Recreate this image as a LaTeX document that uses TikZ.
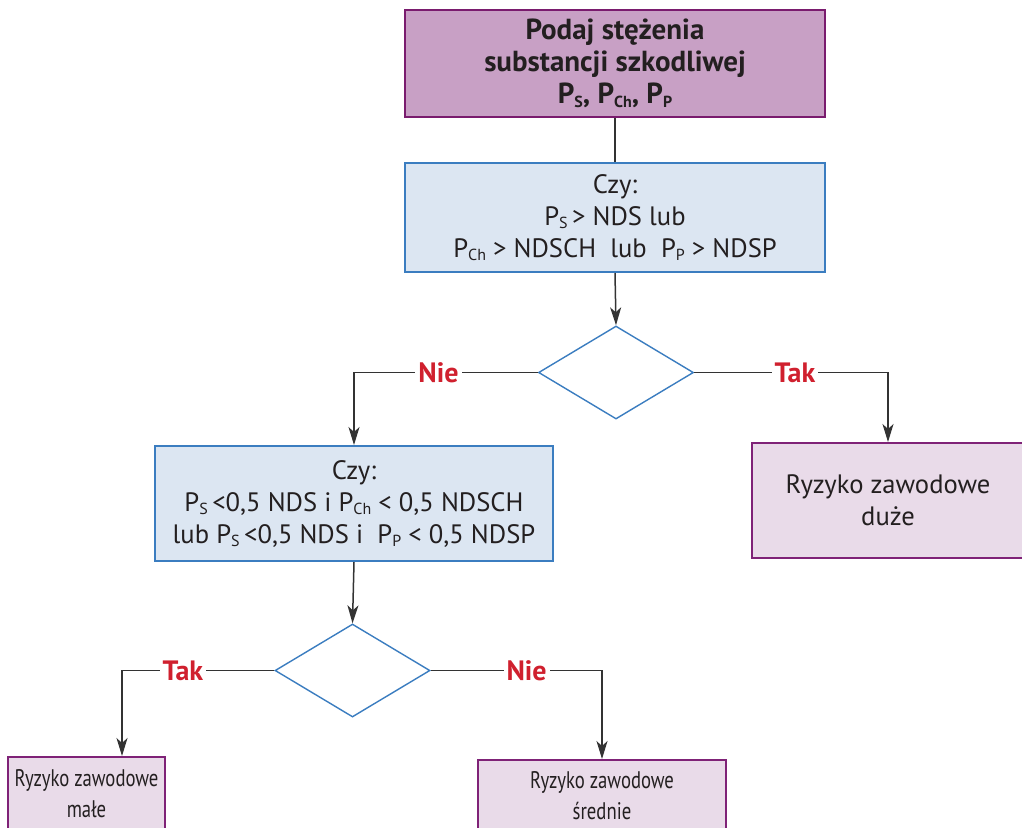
\documentclass[tikz,border=0pt]{standalone}
\usepackage{fontspec}
\setmainfont{PT Sans}
\usetikzlibrary{shapes.geometric,arrows.meta}

\definecolor{startfill}{HTML}{C8A0C5}
\definecolor{startline}{HTML}{7A1B6E}
\definecolor{queryfill}{HTML}{DCE6F2}
\definecolor{queryline}{HTML}{3B7DC0}
\definecolor{resultfill}{HTML}{E9DBE9}
\definecolor{resultline}{HTML}{7F2277}
\definecolor{linegray}{HTML}{333333}
\definecolor{answerred}{HTML}{D0202E}
\definecolor{textdark}{HTML}{231F20}

% small index letters, close to the base line
\newcommand{\idx}[1]{\raisebox{-0.25ex}{\footnotesize #1}}

\tikzset{
start/.style={rectangle, draw=startline, line width=1pt, fill=startfill,
minimum width=210pt, minimum height=53.5pt, text=textdark,
font=\bfseries\fontsize{14.5}{16}\selectfont, align=center},
query/.style={rectangle, draw=queryline, line width=1pt, fill=queryfill,
text=textdark, font=\fontsize{13.3}{16}\selectfont, align=center},
decision/.style={diamond, draw=queryline, line width=0.7pt, fill=white,
minimum width=77.5pt, minimum height=46.5pt, inner sep=0pt},
result/.style={rectangle, draw=resultline, line width=1pt, fill=resultfill,
text=textdark, font=\fontsize{13.3}{16}\selectfont, align=center},
small result/.style={result,
font=\fontsize{12}{15.5}\selectfont\addfontfeature{FakeStretch=0.78}},
link/.style={draw=linegray, line width=0.75pt},
arrow/.style={link, -{Stealth[length=9pt,width=5.5pt,inset=2.5pt]}},
answer/.style={fill=white, text=answerred, inner sep=1.5pt,
font=\bfseries\fontsize{14}{15}\selectfont}
}

\begin{document}
\begin{tikzpicture}[x=0.5pt, y=-0.5pt]
% 1 unit = 1 px of the 1022 x 827 frame
\useasboundingbox (0, 0) rectangle (1022, 827);
\clip (0, 0) rectangle (1022, 827);
\node[start] (input) at (615, 63.5)
  {Podaj stężenia\\substancji szkodliwej\\P\idx{S}, P\idx{Ch}, P\idx{P}};
\node[query, minimum width=210pt, minimum height=54.5pt] (check1) at (615, 217.5)
  {Czy:\\P\idx{S}\,> NDS lub\\P\idx{Ch} > NDSCH\ \ lub\ \ P\idx{P} > NDSP};
\node[decision] (dec1) at (616, 372.5) {};
\node[result, minimum width=136pt, minimum height=57.5pt] (high) at (888, 500.5)
  {Ryzyko zawodowe\\duże};
\node[query, minimum width=199pt, minimum height=57.5pt] (check2) at (354, 503.5)
  {Czy:\\P\idx{S}\,<0,5 NDS i P\idx{Ch} < 0,5 NDSCH\\lub P\idx{S}\,<0,5 NDS i\ \ P\idx{P} < 0,5 NDSP};
\node[decision] (dec2) at (352.5, 670.5) {};
\node[small result, minimum width=78.5pt, minimum height=36.5pt] (low) at (86.5, 793.5)
  {Ryzyko zawodowe\\małe};
\node[small result, minimum width=124pt, minimum height=36pt] (medium) at (602, 796)
  {Ryzyko zawodowe\\średnie};

% connectors
\draw[link] (input.south) -- (check1.north);
\draw[arrow] (check1.south) -- (dec1.north);
\draw[arrow] (dec1.west) -| (check2.north) node[answer, pos=0.27] {Nie};
\draw[arrow] (dec1.east) -| (high.north) node[answer, pos=0.26] {Tak};
\draw[arrow] (check2.south) -- (dec2.north);
\draw[arrow] (dec2.west) -| ([xshift=17.75pt]low.north) node[answer, pos=0.3] {Tak};
\draw[arrow] (dec2.east) -| (medium.north) node[answer, pos=0.28] {Nie};
\end{tikzpicture}
\end{document}
